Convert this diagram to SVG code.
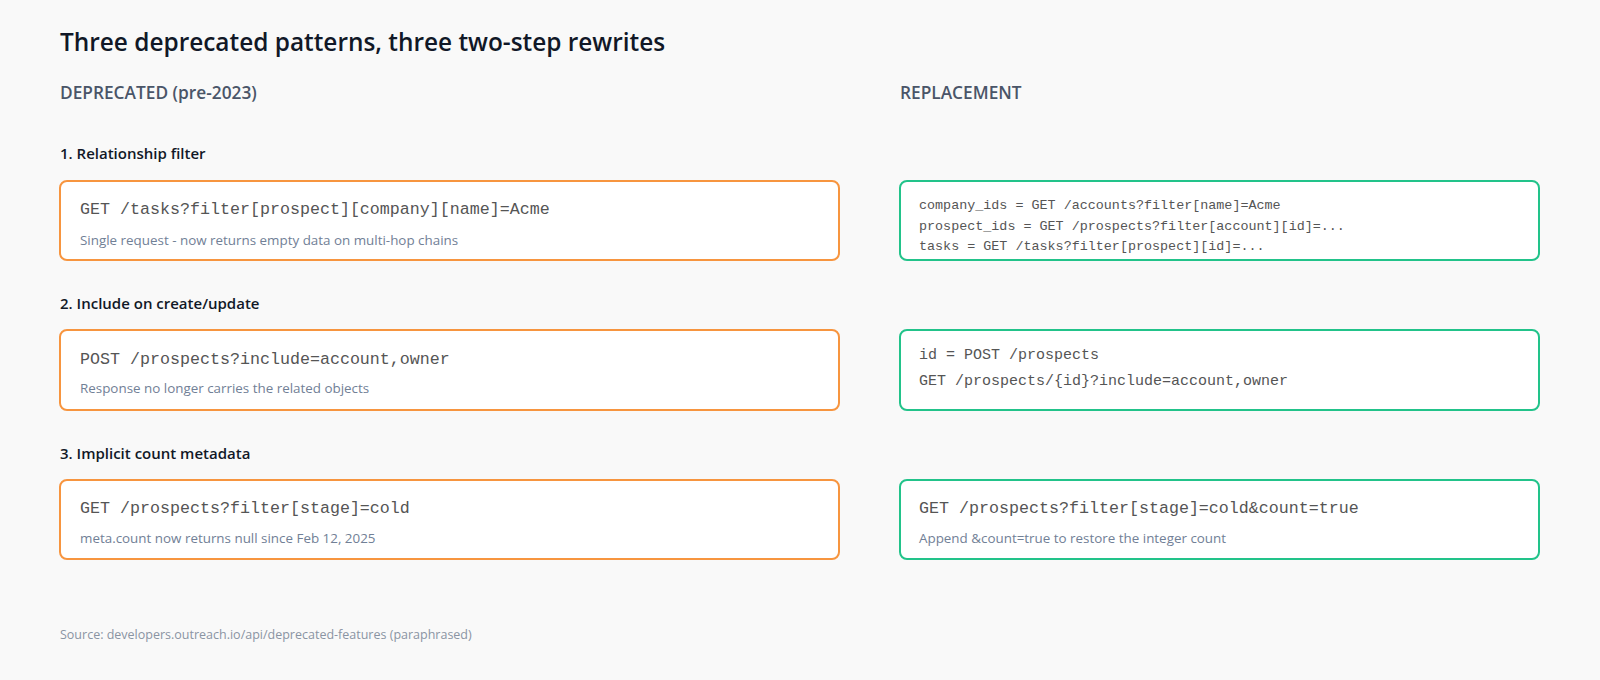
<svg xmlns="http://www.w3.org/2000/svg" width="1600" height="680" viewBox="0 0 1600 680">
<style>
.title{font-family:"Open Sans","Liberation Sans",sans-serif;font-size:24.4px;font-weight:600;fill:#111827}
.col{font-family:"Open Sans","Liberation Sans",sans-serif;font-size:17.3px;font-weight:600;fill:#4a5568}
.sec{font-family:"Open Sans","Liberation Sans",sans-serif;font-size:15px;font-weight:600;fill:#111827}
.old{fill:#ffffff;stroke:#f7953f;stroke-width:2}
.new{fill:#ffffff;stroke:#22c38a;stroke-width:2}
.mono{font-family:"Liberation Mono","Courier New",monospace;fill:#555555}
.m17{font-size:16.67px}
.m15{font-size:15px}
.m13{font-size:13.4px}
.sub{font-family:"Open Sans","Liberation Sans",sans-serif;font-size:13.4px;fill:#718096}
.src{font-family:"Open Sans","Liberation Sans",sans-serif;font-size:12.5px;fill:#8a94a3}
</style>
<rect x="0" y="0" width="1600" height="680" fill="#f9f9f9"/>
<text class="title" x="60" y="51">Three deprecated patterns, three two-step rewrites</text>
<text class="col" x="60" y="99">DEPRECATED (pre-2023)</text>
<text class="col" x="900" y="99">REPLACEMENT</text>

<g id="section1">
<text class="sec" x="60" y="159">1. Relationship filter</text>
</g>
<g id="old1">
<rect class="old" x="60" y="181" width="779" height="79" rx="7"/>
<text class="mono m17" x="80" y="214">GET /tasks?filter[prospect][company][name]=Acme</text>
<text class="sub" x="80" y="245">Single request - now returns empty data on multi-hop chains</text>
</g>
<g id="new1">
<rect class="new" x="900" y="181" width="639" height="79" rx="7"/>
<text class="mono m13" x="919" y="209">company_ids = GET /accounts?filter[name]=Acme</text>
<text class="mono m13" x="919" y="229.5">prospect_ids = GET /prospects?filter[account][id]=...</text>
<text class="mono m13" x="919" y="250">tasks = GET /tasks?filter[prospect][id]=...</text>
</g>

<g id="section2">
<text class="sec" x="60" y="309">2. Include on create/update</text>
</g>
<g id="old2">
<rect class="old" x="60" y="330" width="779" height="80" rx="7"/>
<text class="mono m17" x="80" y="364">POST /prospects?include=account,owner</text>
<text class="sub" x="80" y="393">Response no longer carries the related objects</text>
</g>
<g id="new2">
<rect class="new" x="900" y="330" width="639" height="80" rx="7"/>
<text class="mono m15" x="919" y="359">id = POST /prospects</text>
<text class="mono m15" x="919" y="385">GET /prospects/{id}?include=account,owner</text>
</g>

<g id="section3">
<text class="sec" x="60" y="459">3. Implicit count metadata</text>
</g>
<g id="old3">
<rect class="old" x="60" y="480" width="779" height="79" rx="7"/>
<text class="mono m17" x="80" y="513">GET /prospects?filter[stage]=cold</text>
<text class="sub" x="80" y="543">meta.count now returns null since Feb 12, 2025</text>
</g>
<g id="new3">
<rect class="new" x="900" y="480" width="639" height="79" rx="7"/>
<text class="mono m17" x="919" y="513">GET /prospects?filter[stage]=cold&amp;count=true</text>
<text class="sub" x="919" y="543">Append &amp;count=true to restore the integer count</text>
</g>

<g id="connectors"></g>

<text class="src" x="60" y="639">Source: developers.outreach.io/api/deprecated-features (paraphrased)</text>
</svg>
